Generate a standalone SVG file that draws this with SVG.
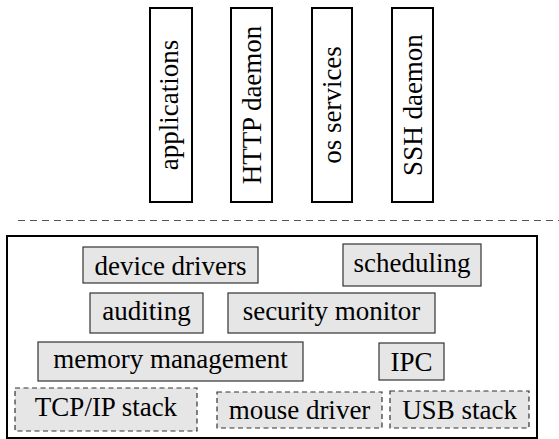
<svg xmlns="http://www.w3.org/2000/svg" width="559" height="439" viewBox="0 0 559 439">
<style>
.top{fill:#fff;stroke:#000;stroke-width:2}
.mod{fill:#e6e6e6;stroke:#333;stroke-width:1.2}
.dash{fill:#e6e6e6;stroke:#333;stroke-width:1.2;stroke-dasharray:5,3.5}
.outer{fill:#fff;stroke:#000;stroke-width:2}
.sep{stroke:#555;stroke-width:1.2;stroke-dasharray:7,5;fill:none}
</style>
<rect width="559" height="439" fill="#fff"/>
<g id="connectors">
<line class="sep" x1="18" y1="220.5" x2="559" y2="220.5"/>
</g>
<g font-family="Liberation Serif, serif" font-size="27" text-anchor="middle" fill="#000">
<g id="applications"><rect class="top" x="150" y="8" width="42" height="194"/><text transform="translate(177.5,105) rotate(-90)">applications</text></g>
<g id="http-daemon"><rect class="top" x="231" y="8" width="41" height="194"/><text transform="translate(260.5,105) rotate(-90)">HTTP daemon</text></g>
<g id="os-services"><rect class="top" x="312" y="8" width="40" height="194"/><text transform="translate(341,105) rotate(-90)">os services</text></g>
<g id="ssh-daemon"><rect class="top" x="392" y="8" width="41" height="194"/><text transform="translate(422,105) rotate(-90)">SSH daemon</text></g>
<g id="kernel"><rect class="outer" x="7" y="236" width="530" height="202"/></g>
<g id="device-drivers"><rect class="mod" x="83" y="247" width="175" height="36"/><text x="170.5" y="274.5">device drivers</text></g>
<g id="scheduling"><rect class="mod" x="343" y="244" width="138" height="42"/><text x="412" y="271.5">scheduling</text></g>
<g id="auditing"><rect class="mod" x="90" y="293" width="113" height="40"/><text x="146.5" y="320">auditing</text></g>
<g id="security-monitor"><rect class="mod" x="228" y="293" width="207" height="40"/><text x="331.5" y="320">security monitor</text></g>
<g id="memory-management"><rect class="mod" x="38" y="342" width="265" height="39"/><text x="170.5" y="367.5">memory management</text></g>
<g id="ipc"><rect class="mod" x="379" y="343" width="65" height="37"/><text x="411.5" y="370.5">IPC</text></g>
<g id="tcpip-stack"><rect class="dash" x="15" y="388" width="182" height="43"/><text x="106" y="416">TCP/IP stack</text></g>
<g id="mouse-driver"><rect class="dash" x="217" y="392" width="165" height="36"/><text x="299.5" y="418.5">mouse driver</text></g>
<g id="usb-stack"><rect class="dash" x="390" y="391" width="139" height="37"/><text x="459.5" y="418.5">USB stack</text></g>
</g>
</svg>
